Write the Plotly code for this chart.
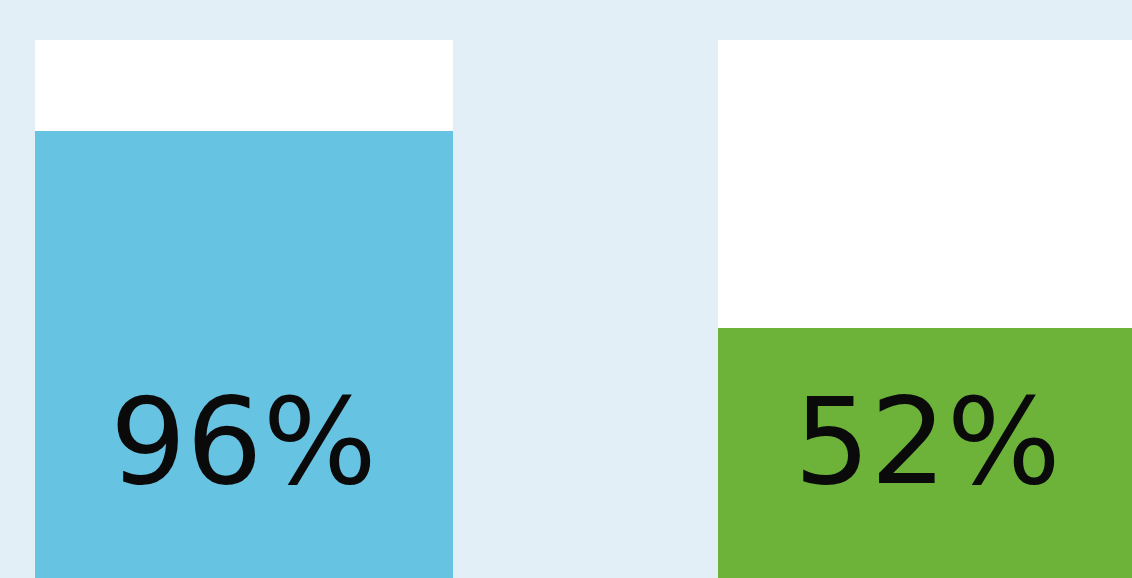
import plotly.graph_objects as go

# Data
categories = ["A", "B"]
values = [96, 52]
labels = ["96%", "52%"]
bar_colors = ["#66c3e1", "#6db33a"]
panel_height = [116.3, 116.3]

x_pos = [0, 1]
BASE = -10

fig = go.Figure()

# white panels behind the bars
fig.add_trace(go.Bar(
    x=x_pos, y=[p - BASE for p in panel_height], base=BASE,
    width=0.612, marker=dict(color="#ffffff", line=dict(width=0)),
    hoverinfo="skip", showlegend=False,
))

# value bars
fig.add_trace(go.Bar(
    x=x_pos, y=[v - BASE for v in values], base=BASE,
    width=0.612, marker=dict(color=bar_colors, line=dict(width=0)),
    customdata=categories, hovertemplate="%{customdata}: %{y}<extra></extra>",
    showlegend=False,
))

for xp, lab in zip(x_pos, labels):
    fig.add_annotation(
        x=xp, y=0.236, xref="x", yref="paper",
        text=lab, showarrow=False, xanchor="center", yanchor="middle",
        font=dict(family="DejaVu Sans", size=120, color="#0a0a0a"),
    )

fig.update_layout(
    width=1132, height=578,
    margin=dict(l=0, r=0, t=0, b=0),
    paper_bgcolor="#e3eff7", plot_bgcolor="#e3eff7",
    barmode="overlay", bargap=0,
    xaxis=dict(range=[-0.357, 1.300], visible=False, fixedrange=True),
    yaxis=dict(range=[-3.84, 125.26], visible=False, fixedrange=True),
)

fig.write_html("out.html")
